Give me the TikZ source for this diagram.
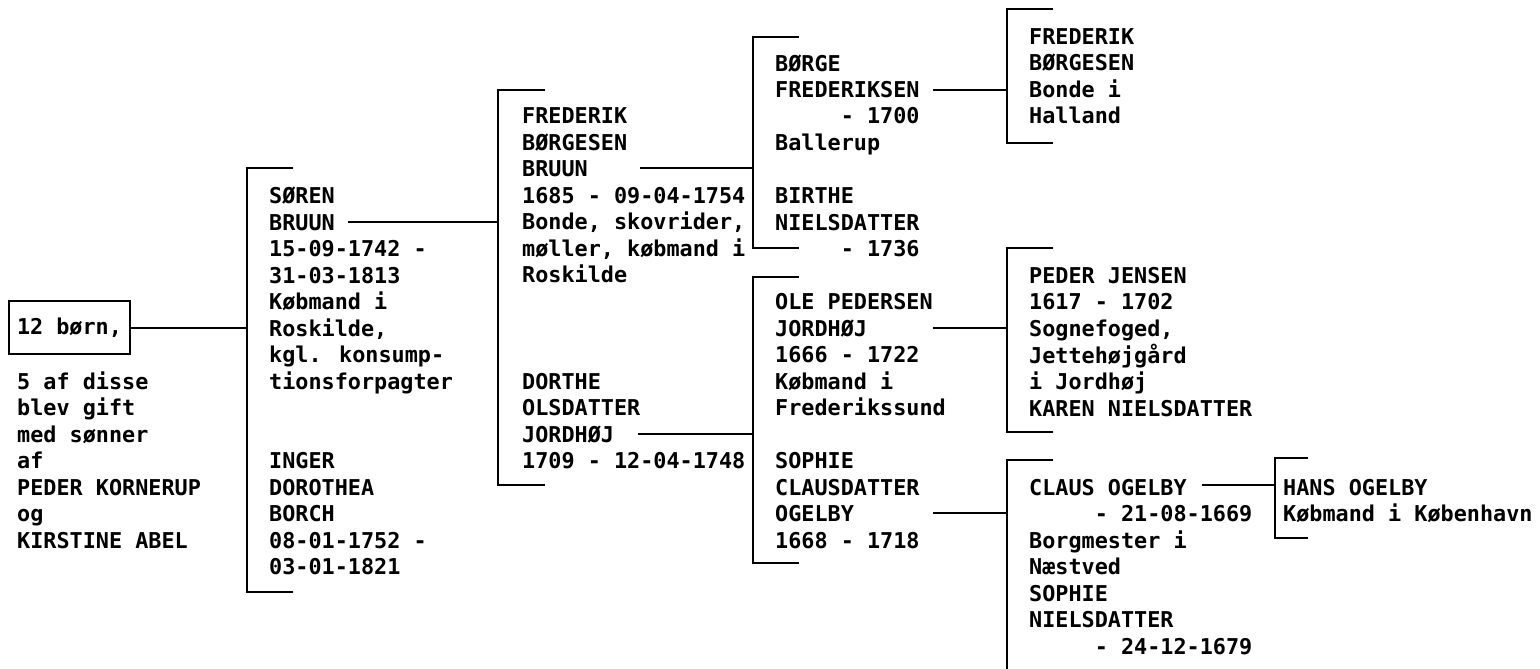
\documentclass[tikz,border=0pt]{standalone}
\usepackage{fontspec}
\setmainfont{DejaVu Sans Mono}
\newcommand\lns[1]{\begin{tabular}[t]{@{}l@{}}#1\end{tabular}}
\newcommand\ind{\hphantom{00000}}
\begin{document}
\begin{tikzpicture}[x=1pt,y=-1pt,
  txt/.style={anchor=base west,inner sep=0pt,font=\fontsize{21.8}{26.5}\selectfont\bfseries},
  ln/.style={line width=2pt,line cap=rect},
  brk/.style={line width=2pt}]
\useasboundingbox (0,0) rectangle (1540,669);
% ---------- column 1
\node[draw,line width=2pt,anchor=west,inner xsep=8pt,minimum height=53pt,
      font=\fontsize{21.8}{26.5}\selectfont\bfseries] (box) at (8,327.5) {12 børn,};
\node[txt] (c1) at (17,389) {\lns{5 af disse\\blev gift\\med sønner\\af\\PEDER KORNERUP\\og\\KIRSTINE ABEL}};
% ---------- column 2
\node[txt] (soren) at (269,203.5) {\lns{SØREN\\BRUUN\\15-09-1742 -\\31-03-1813\\Købmand i\\Roskilde,\\kgl. konsump-\\tionsforpagter}};
\node[txt] (inger) at (269,468.5) {\lns{INGER\\DOROTHEA\\BORCH\\08-01-1752 -\\03-01-1821}};
% ---------- column 3
\node[txt] (frederik) at (522,124) {\lns{FREDERIK\\BØRGESEN\\BRUUN\\1685 - 09-04-1754\\Bonde, skovrider,\\møller, købmand i\\Roskilde}};
\node[txt] (dorthe) at (522,389) {\lns{DORTHE\\OLSDATTER\\JORDHØJ\\1709 - 12-04-1748}};
% ---------- column 4
\node[txt] (borge) at (775,71) {\lns{BØRGE\\FREDERIKSEN\\\ind- 1700\\Ballerup}};
\node[txt] (birthe) at (775,203.5) {\lns{BIRTHE\\NIELSDATTER\\\ind- 1736}};
\node[txt] (ole) at (775,309.5) {\lns{OLE PEDERSEN\\JORDHØJ\\1666 - 1722\\Købmand i\\Frederikssund}};
\node[txt] (sophie) at (775,468.5) {\lns{SOPHIE\\CLAUSDATTER\\OGELBY\\1668 - 1718}};
% ---------- column 5
\node[txt] (fb) at (1029,44.5) {\lns{FREDERIK\\BØRGESEN\\Bonde i\\Halland}};
\node[txt] (peder) at (1029,283) {\lns{PEDER JENSEN\\1617 - 1702\\Sognefoged,\\Jettehøjgård\\i Jordhøj\\KAREN NIELSDATTER}};
\node[txt] (claus) at (1029,495) {\lns{CLAUS OGELBY\\\ind- 21-08-1669\\Borgmester i\\Næstved\\SOPHIE\\NIELSDATTER\\\ind- 24-12-1679}};
% ---------- column 6
\node[txt] (hans) at (1283,495) {\lns{HANS OGELBY\\Købmand i København}};
% ---------- brackets
\coordinate (b1) at (247,328);
\draw[brk] (293,168) -- (247,168) -- (247,592) -- (293,592);
\coordinate (b2) at (498,222);
\draw[brk] (545,90) -- (498,90) -- (498,485) -- (545,485);
\coordinate (b3) at (753,168);
\draw[brk] (799,37) -- (753,37) -- (753,248) -- (799,248);
\coordinate (b4) at (753,434);
\draw[brk] (799,277) -- (753,277) -- (753,563) -- (799,563);
\coordinate (b5) at (1007,90);
\draw[brk] (1053,9) -- (1007,9) -- (1007,143) -- (1053,143);
\coordinate (b6) at (1007,328);
\draw[brk] (1053,248) -- (1007,248) -- (1007,432) -- (1053,432);
\coordinate (b7) at (1007,513);
\draw[brk] (1053,460) -- (1007,460) -- (1007,669);
\coordinate (b8) at (1275,485);
\draw[brk] (1308,458) -- (1275,458) -- (1275,538) -- (1308,538);
% ---------- connector starts
\coordinate (s2) at (348,222);
\coordinate (s3) at (640,168);
\coordinate (s4) at (638,434);
\coordinate (s5) at (933,90);
\coordinate (s6) at (933,328);
\coordinate (s7) at (933,513);
\coordinate (s8) at (1202,485);
% ---------- connectors
\draw[brk] (box.east |- b1) -- (b1);
\draw[brk] (s2) -- (b2);
\draw[brk] (s3) -- (b3);
\draw[brk] (s4) -- (b4);
\draw[brk] (s5) -- (b5);
\draw[brk] (s6) -- (b6);
\draw[brk] (s7) -- (b7);
\draw[brk] (s8) -- (b8);
\end{tikzpicture}
\end{document}
